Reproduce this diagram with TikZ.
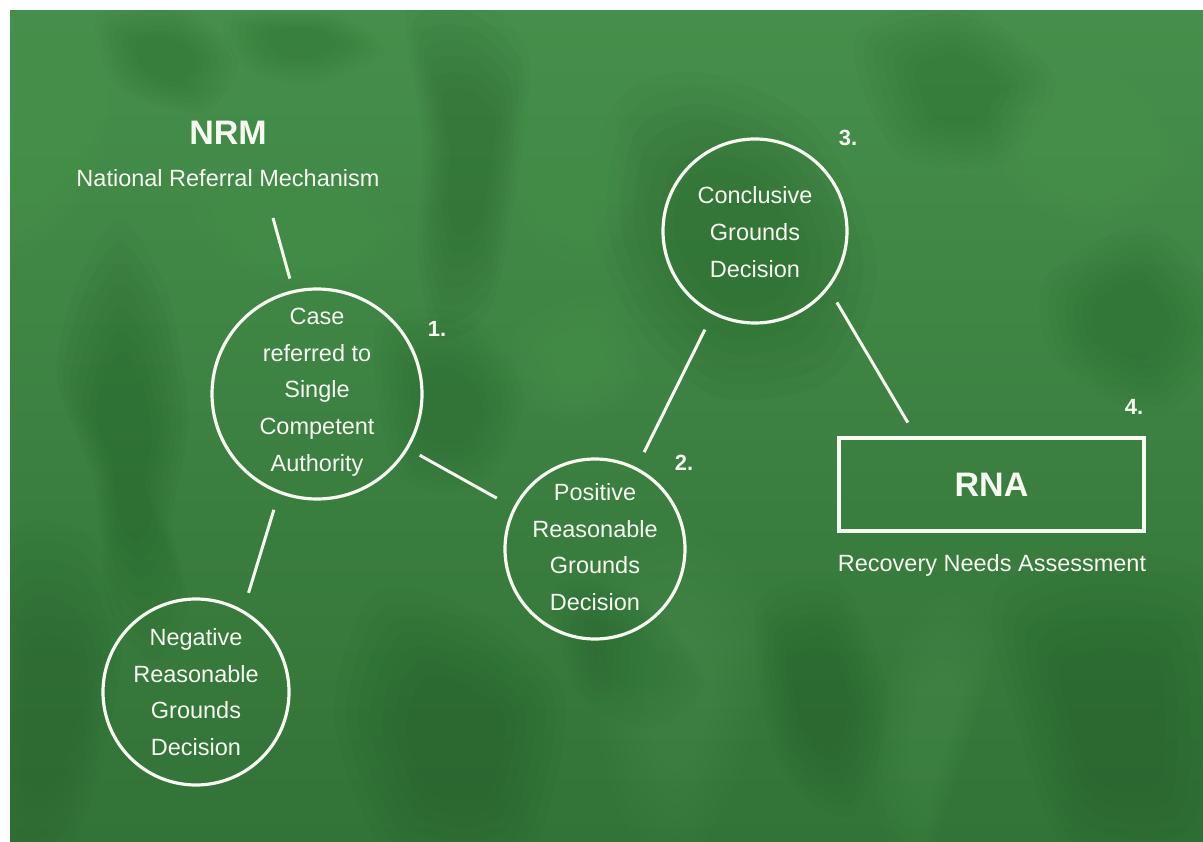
\documentclass[tikz,border=0pt]{standalone}
\usepackage{fontspec}
\setmainfont{Liberation Sans}
\usetikzlibrary{calc}

\definecolor{washlight}{HTML}{468F4B}
\definecolor{washdark}{HTML}{327337}
\definecolor{stain}{HTML}{1D5724}
\definecolor{bloom}{HTML}{5CA760}
\definecolor{chalk}{HTML}{F6FAF1}

% a soft watercolour patch: nested, faint copies of one outline
% #1 colour, #2 opacity per layer, #3 #4 centre, #5 outline points
\newcommand{\washpatch}[5]{%
  \foreach \s in {1.05,0.95,0.85,0.75,0.65,0.55,0.45}{%
    \begin{scope}[shift={(#3,#4)}, scale=\s, shift={(-#3,-#4)}]
      \path[fill=#1, fill opacity=#2] plot[smooth cycle] coordinates {#5};
    \end{scope}}}

\begin{document}
\begin{tikzpicture}[x=1pt,y=-1pt,
  stage/.style={circle, draw=chalk, line width=3.2pt, inner sep=0pt},
  stagetext/.style={text=chalk, align=center, font=\fontsize{23.5}{36.7}\selectfont},
  link/.style={draw=chalk, line width=3pt},
  stepno/.style={text=chalk, font=\bfseries\fontsize{22}{26}\selectfont},
  heading/.style={text=chalk, font=\bfseries\fontsize{34}{40}\selectfont},
  caption/.style={text=chalk, font=\fontsize{23.5}{28}\selectfont}]

\useasboundingbox (0,0) rectangle (1203,842);
\fill[white] (0,0) rectangle (1203,842);

% watercolour wash
\shade[top color=washlight, bottom color=washdark] (10,11) rectangle (1203,842);
\begin{scope}
  \clip (10,11) rectangle (1203,842);
  % darker stains
  \washpatch{stain}{.05}{125}{450}{(80,290) (120,230) (165,300) (185,420) (170,520) (185,600) (150,650) (110,600) (95,480) (60,380)}
  \washpatch{stain}{.05}{470}{160}{(410,15) (470,5) (525,60) (515,180) (490,300) (440,330) (420,250) (425,140)}
  \washpatch{stain}{.05}{735}{240}{(620,110) (700,80) (810,130) (870,260) (830,370) (720,390) (640,320) (600,220)}
  \washpatch{stain}{.045}{50}{720}{(0,560) (80,540) (120,620) (100,760) (60,860) (0,860)}
  \washpatch{stain}{.05}{460}{740}{(380,600) (480,620) (560,700) (520,860) (400,860) (340,720)}
  \washpatch{stain}{.05}{1110}{720}{(1000,600) (1100,560) (1220,600) (1220,860) (1080,860) (1020,720)}
  \washpatch{stain}{.04}{960}{90}{(860,40) (960,10) (1050,80) (1000,160) (900,150)}
  \washpatch{stain}{.045}{1130}{320}{(1050,280) (1150,230) (1220,320) (1160,410) (1060,360)}
  \washpatch{stain}{.04}{165}{60}{(100,20) (180,10) (235,60) (200,110) (120,85)}
  \washpatch{stain}{.045}{630}{660}{(560,590) (640,600) (700,680) (650,725) (580,690)}
  \washpatch{stain}{.05}{820}{700}{(760,610) (840,590) (885,700) (850,810) (780,760)}
  \washpatch{stain}{.04}{450}{410}{(380,330) (470,320) (520,400) (480,480) (400,470)}
  \washpatch{stain}{.035}{300}{40}{(230,20) (330,15) (380,50) (320,80) (250,70)}
  % lighter blooms
  \washpatch{bloom}{.04}{680}{700}{(620,560) (700,540) (760,620) (740,760) (680,860) (620,800) (600,680)}
  \washpatch{bloom}{.045}{935}{730}{(900,650) (950,600) (990,650) (960,760) (920,860) (880,800)}
  \washpatch{bloom}{.035}{300}{230}{(200,200) (330,180) (400,230) (350,280) (240,270)}
  \washpatch{bloom}{.04}{1100}{150}{(1000,100) (1120,80) (1180,160) (1100,220) (1020,190)}
  \washpatch{bloom}{.04}{40}{110}{(0,0) (90,0) (110,120) (60,220) (0,240)}
  \washpatch{bloom}{.035}{580}{360}{(520,330) (600,300) (640,380) (580,420) (530,400)}
  \washpatch{bloom}{.035}{580}{180}{(520,110) (610,100) (640,200) (590,260) (530,230)}
\end{scope}

% stages
\node[stage, minimum size=210pt] (c1) at (317,394) {};
\node[stagetext] (c1t) at (317,392) {Case\\referred to\\Single\\Competent\\Authority};

\node[stage, minimum size=186pt] (neg) at (196,692) {};
\node[stagetext] (negt) at (196,692) {Negative\\Reasonable\\Grounds\\Decision};

\node[stage, minimum size=180pt] (pos) at (595,549) {};
\node[stagetext] (post) at (595,547) {Positive\\Reasonable\\Grounds\\Decision};

\node[stage, minimum size=184pt] (conc) at (755,231) {};
\node[stagetext] (conct) at (755,232) {Conclusive\\Grounds\\Decision};

\node[draw=chalk, line width=3.2pt, minimum width=305pt, minimum height=93pt, heading] (rna) at (991.5,484.5) {RNA};
\node[caption, anchor=base] (rnadesc) at (992,571) {Recovery Needs Assessment};

% headings
\node[heading] (nrm) at (228,133) {NRM};
\node[caption] (nrmdesc) at (228,178) {National Referral Mechanism};

% step numbers
\node[stepno] (n1) at (437,329) {1.};
\node[stepno] (n2) at (684,463) {2.};
\node[stepno] (n3) at (848,138) {3.};
\node[stepno] (n4) at (1134,407) {4.};

% connectors
\coordinate (nrmtail) at (273,218);
\coordinate (rnatop) at ($(rna.north west)!0.255!(rna.north east)$);
\draw[link, shorten >=12pt] (nrmtail) -- (c1.103);
\draw[link, shorten <=13pt, shorten >=19pt] (c1.-31) -- (pos.153);
\draw[link, shorten <=17pt, shorten >=18pt] (c1.249) -- (neg.60);
\draw[link, shorten <=17pt, shorten >=17pt] (pos.63) -- (conc.243);
\draw[link, shorten <=16pt, shorten >=16pt] (conc.-38) -- (rnatop);
\end{tikzpicture}
\end{document}
